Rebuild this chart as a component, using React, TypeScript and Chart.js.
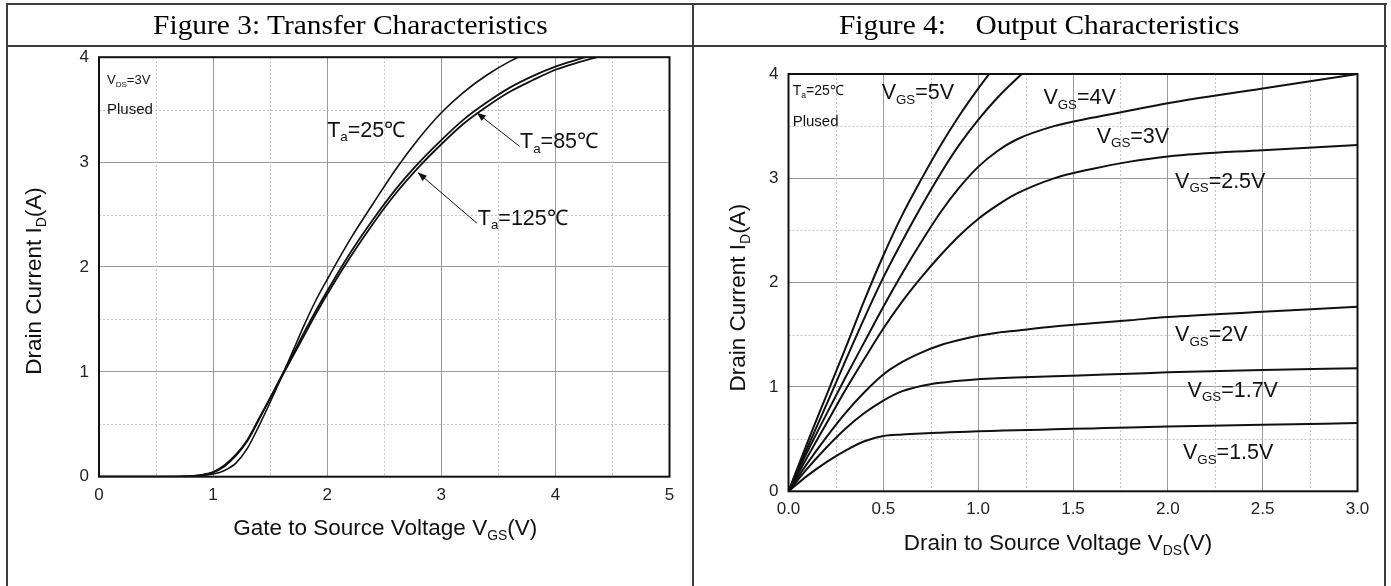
import React, { useEffect, useRef } from 'react';
import { Chart, registerables } from 'chart.js';

Chart.register(...registerables);

// ---------- Figure 3: Transfer characteristics (ID vs VGS) ----------
const transferVgs = [0, 0.5, 0.8, 0.9, 1.0, 1.1, 1.2, 1.3, 1.4, 1.5, 1.6, 1.7, 1.8, 1.9, 2.0, 2.2, 2.4, 2.6, 2.8, 3.0, 3.2, 3.4, 3.6, 3.8, 4.0, 4.2, 4.4, 4.6];
const idTa25 = [0, 0, 0.003, 0.01, 0.025, 0.06, 0.13, 0.27, 0.48, 0.71, 0.95, 1.2, 1.45, 1.68, 1.88, 2.26, 2.6, 2.93, 3.22, 3.47, 3.67, 3.83, 3.96, 4.06, 4.15, 4.23, 4.3, 4.36];
const idTa85 = [0, 0, 0.005, 0.015, 0.04, 0.1, 0.2, 0.34, 0.54, 0.75, 0.96, 1.17, 1.38, 1.58, 1.77, 2.13, 2.45, 2.74, 2.99, 3.21, 3.41, 3.57, 3.71, 3.82, 3.91, 3.98, 4.04, 4.09];
const idTa125 = [0, 0, 0.006, 0.018, 0.045, 0.11, 0.21, 0.35, 0.55, 0.75, 0.95, 1.15, 1.35, 1.55, 1.74, 2.09, 2.41, 2.7, 2.95, 3.17, 3.37, 3.53, 3.67, 3.78, 3.88, 3.95, 4.01, 4.06];

// ---------- Figure 4: Output characteristics (ID vs VDS) ----------
const outputVds = [0, 0.1, 0.2, 0.3, 0.4, 0.5, 0.6, 0.7, 0.8, 0.9, 1.0, 1.1, 1.2, 1.4, 1.6, 1.8, 2.0, 2.5, 3.0];
const idVgs5 = [0, 0.47, 0.92, 1.37, 1.83, 2.26, 2.65, 2.99, 3.31, 3.6, 3.86, 4.1, null, null, null, null, null, null, null];
const idVgs4 = [0, 0.42, 0.83, 1.25, 1.66, 2.05, 2.4, 2.73, 3.04, 3.32, 3.56, 3.77, 3.95, 4.27, null, null, null, null, null];
const idVgs3 = [0, 0.38, 0.74, 1.09, 1.43, 1.77, 2.09, 2.39, 2.67, 2.91, 3.11, 3.26, 3.37, 3.5, 3.58, 3.65, 3.72, 3.86, 4.0];
const idVgs25 = [0, 0.33, 0.65, 0.97, 1.27, 1.56, 1.82, 2.05, 2.26, 2.45, 2.61, 2.74, 2.85, 3.0, 3.09, 3.16, 3.21, 3.27, 3.32];
const idVgs2 = [0, 0.27, 0.52, 0.75, 0.95, 1.12, 1.24, 1.33, 1.4, 1.45, 1.49, 1.52, 1.54, 1.58, 1.61, 1.64, 1.67, 1.72, 1.77];
const idVgs17 = [0, 0.22, 0.42, 0.6, 0.75, 0.87, 0.96, 1.01, 1.04, 1.06, 1.075, 1.083, 1.09, 1.103, 1.115, 1.127, 1.14, 1.163, 1.18];
const idVgs15 = [0, 0.15, 0.28, 0.39, 0.48, 0.53, 0.545, 0.555, 0.562, 0.568, 0.575, 0.58, 0.585, 0.594, 0.603, 0.612, 0.62, 0.637, 0.655];

const SANS = '"Liberation Sans", Arial, Helvetica, sans-serif';
const SERIF = '"Liberation Serif", "Times New Roman", Times, serif';

type Part = [string, boolean];

function richWidth(ctx: CanvasRenderingContext2D, parts: Part[], size: number) {
  let w = 0;
  for (const [t, sub] of parts) {
    ctx.font = `${sub ? size * 0.62 : size}px ${SANS}`;
    w += ctx.measureText(t).width;
  }
  return w;
}

function drawRich(ctx: CanvasRenderingContext2D, parts: Part[], x: number, y: number, size: number, align: 'left' | 'center' = 'left') {
  ctx.save();
  ctx.textBaseline = 'middle';
  ctx.textAlign = 'left';
  ctx.fillStyle = '#111';
  const w = richWidth(ctx, parts, size);
  let cx = align === 'center' ? x - w / 2 : x;
  for (const [t, sub] of parts) {
    ctx.font = `${sub ? size * 0.62 : size}px ${SANS}`;
    ctx.fillText(t, cx, sub ? y + size * 0.33 : y);
    cx += ctx.measureText(t).width;
  }
  ctx.restore();
}

const decorPlugin = {
  id: 'decor',
  beforeDatasetsDraw(chart: any, _args: any, opts: any) {
    const { ctx, chartArea: a } = chart;
    const xs = chart.scales.x;
    const ys = chart.scales.y;
    ctx.save();
    ctx.strokeStyle = '#c2c2c2';
    ctx.lineWidth = 1;
    ctx.setLineDash([2, 2]);
    for (let v = xs.min + opts.minorX; v < xs.max; v += opts.minorX * 2) {
      const px = Math.round(xs.getPixelForValue(v)) + 0.5;
      ctx.beginPath();
      ctx.moveTo(px, a.top);
      ctx.lineTo(px, a.bottom);
      ctx.stroke();
    }
    for (let v = ys.min + opts.minorY; v < ys.max; v += opts.minorY * 2) {
      const py = Math.round(ys.getPixelForValue(v)) + 0.5;
      ctx.beginPath();
      ctx.moveTo(a.left, py);
      ctx.lineTo(a.right, py);
      ctx.stroke();
    }
    ctx.restore();
  },
  afterDatasetsDraw(chart: any, _args: any, opts: any) {
    const { ctx, chartArea: a } = chart;
    const xs = chart.scales.x;
    const ys = chart.scales.y;
    ctx.save();
    // plot frame
    ctx.strokeStyle = '#111';
    ctx.lineWidth = 2;
    ctx.setLineDash([]);
    ctx.strokeRect(a.left, a.top, a.right - a.left, a.bottom - a.top);
    // arrows
    for (const ar of opts.arrows || []) {
      const x1 = xs.getPixelForValue(ar.from[0]);
      const y1 = ys.getPixelForValue(ar.from[1]);
      const x2 = xs.getPixelForValue(ar.to[0]);
      const y2 = ys.getPixelForValue(ar.to[1]);
      ctx.strokeStyle = '#111';
      ctx.lineWidth = 1;
      ctx.beginPath();
      ctx.moveTo(x1, y1);
      ctx.lineTo(x2, y2);
      ctx.stroke();
      const ang = Math.atan2(y2 - y1, x2 - x1);
      const L = 9, W = 3.5;
      ctx.fillStyle = '#111';
      ctx.beginPath();
      ctx.moveTo(x2, y2);
      ctx.lineTo(x2 - L * Math.cos(ang) + W * Math.sin(ang), y2 - L * Math.sin(ang) - W * Math.cos(ang));
      ctx.lineTo(x2 - L * Math.cos(ang) - W * Math.sin(ang), y2 - L * Math.sin(ang) + W * Math.cos(ang));
      ctx.closePath();
      ctx.fill();
    }
    // labels
    for (const lb of opts.labels || []) {
      drawRich(ctx, lb.parts, xs.getPixelForValue(lb.at[0]), ys.getPixelForValue(lb.at[1]), lb.size, 'left');
    }
    // axis titles
    const cxm = (a.left + a.right) / 2;
    const cym = (a.top + a.bottom) / 2;
    drawRich(ctx, opts.xTitle, cxm + opts.xTitleDx, a.bottom + opts.xTitleDy, opts.titleSize, 'center');
    ctx.save();
    ctx.translate(a.left - opts.yTitleDx, cym + opts.yTitleDy);
    ctx.rotate(-Math.PI / 2);
    drawRich(ctx, opts.yTitle, 0, 0, opts.titleSize, 'center');
    ctx.restore();
    ctx.restore();
  },
};

function series(xs: number[], ys: (number | null)[], width: number) {
  return {
    data: xs.map((x, i) => ({ x, y: ys[i] })),
    showLine: true,
    pointRadius: 0,
    borderColor: '#111',
    borderWidth: width,
    cubicInterpolationMode: 'monotone',
    fill: false,
  };
}

const tickFont = { family: SANS, size: 17 };

function transferConfig(): any {
  return {
    type: 'scatter',
    data: {
      datasets: [
        series(transferVgs, idTa25, 1.6),
        series(transferVgs, idTa85, 1.8),
        series(transferVgs, idTa125, 1.8),
      ],
    },
    options: {
      animation: false,
      responsive: false,
      devicePixelRatio: 1,
      events: [],
      layout: { padding: { top: 20, right: 22.5, left: 0, bottom: 0 } },
      plugins: {
        legend: { display: false },
        tooltip: { enabled: false },
        decor: {
          minorX: 0.5,
          minorY: 0.5,
          titleSize: 22.5,
          xTitle: [['Gate to Source Voltage V', false], ['GS', true], ['(V)', false]],
          xTitleDx: 1,
          xTitleDy: 52,
          yTitle: [['Drain Current I', false], ['D', true], ['(A)', false]],
          yTitleDx: 64,
          yTitleDy: 14,
          labels: [
            { parts: [['V', false], ['DS', true], ['=3V', false]], at: [0.07, 3.78], size: 13 },
            { parts: [['Plused', false]], at: [0.07, 3.5], size: 15 },
            { parts: [['T', false], ['a', true], ['=25℃', false]], at: [2.0, 3.3], size: 21.5 },
            { parts: [['T', false], ['a', true], ['=85℃', false]], at: [3.69, 3.19], size: 21.5 },
            { parts: [['T', false], ['a', true], ['=125℃', false]], at: [3.32, 2.46], size: 21.5 },
          ],
          arrows: [
            { from: [3.687, 3.149], to: [3.311, 3.47] },
            { from: [3.311, 2.418], to: [2.795, 2.9] },
          ],
        },
      },
      scales: {
        x: {
          type: 'linear',
          min: 0,
          max: 5,
          afterFit: (s: any) => { s.height = 107.3; },
          ticks: { stepSize: 1, padding: 8, color: '#222', font: tickFont, maxRotation: 0, autoSkip: false },
          grid: { color: '#9a9a9a', lineWidth: 1, drawTicks: false },
          border: { display: false },
        },
        y: {
          type: 'linear',
          min: 0,
          max: 4,
          afterFit: (s: any) => { s.width = 90; },
          ticks: { stepSize: 1, padding: 10, color: '#222', font: tickFont, autoSkip: false },
          grid: { color: '#9a9a9a', lineWidth: 1, drawTicks: false },
          border: { display: false },
        },
      },
    },
    plugins: [decorPlugin],
  };
}

function outputConfig(): any {
  return {
    type: 'scatter',
    data: {
      datasets: [
        series(outputVds, idVgs5, 2),
        series(outputVds, idVgs4, 2),
        series(outputVds, idVgs3, 2),
        series(outputVds, idVgs25, 2),
        series(outputVds, idVgs2, 2),
        series(outputVds, idVgs17, 2),
        series(outputVds, idVgs15, 2),
      ],
    },
    options: {
      animation: false,
      responsive: false,
      devicePixelRatio: 1,
      events: [],
      layout: { padding: { top: 28, right: 25.5, left: 0, bottom: 0 } },
      plugins: {
        legend: { display: false },
        tooltip: { enabled: false },
        decor: {
          minorX: 0.25,
          minorY: 0.5,
          titleSize: 22.5,
          xTitle: [['Drain to Source Voltage V', false], ['DS', true], ['(V)', false]],
          xTitleDx: -15,
          xTitleDy: 52,
          yTitle: [['Drain Current I', false], ['D', true], ['(A)', false]],
          yTitleDx: 50,
          yTitleDy: 15,
          labels: [
            { parts: [['T', false], ['a', true], ['=25℃', false]], at: [0.022, 3.834], size: 14 },
            { parts: [['Plused', false]], at: [0.022, 3.537], size: 15 },
            { parts: [['V', false], ['GS', true], ['=5V', false]], at: [0.491, 3.816], size: 21.5 },
            { parts: [['V', false], ['GS', true], ['=4V', false]], at: [1.344, 3.768], size: 21.5 },
            { parts: [['V', false], ['GS', true], ['=3V', false]], at: [1.625, 3.4], size: 21.5 },
            { parts: [['V', false], ['GS', true], ['=2.5V', false]], at: [2.038, 2.968], size: 21.5 },
            { parts: [['V', false], ['GS', true], ['=2V', false]], at: [2.038, 1.499], size: 21.5 },
            { parts: [['V', false], ['GS', true], ['=1.7V', false]], at: [2.104, 0.965], size: 21.5 },
            { parts: [['V', false], ['GS', true], ['=1.5V', false]], at: [2.08, 0.364], size: 21.5 },
          ],
          arrows: [],
        },
      },
      scales: {
        x: {
          type: 'linear',
          min: 0,
          max: 3,
          afterFit: (s: any) => { s.height = 92.7; },
          ticks: { stepSize: 0.5, padding: 8, color: '#222', font: tickFont, maxRotation: 0, autoSkip: false, callback: (v: any) => Number(v).toFixed(1) },
          grid: { color: '#9a9a9a', lineWidth: 1, drawTicks: false },
          border: { display: false },
        },
        y: {
          type: 'linear',
          min: 0,
          max: 4,
          afterFit: (s: any) => { s.width = 93.5; },
          ticks: { stepSize: 1, padding: 10, color: '#222', font: tickFont, autoSkip: false },
          grid: { color: '#9a9a9a', lineWidth: 1, drawTicks: false },
          border: { display: false },
        },
      },
    },
    plugins: [decorPlugin],
  };
}

function ChartCanvas(props: { build: () => any; left: number; top: number; width: number; height: number }) {
  const ref = useRef<HTMLCanvasElement | null>(null);
  useEffect(() => {
    if (!ref.current) return;
    const c = new Chart(ref.current, props.build());
    return () => c.destroy();
  }, []);
  return (
    <canvas
      ref={ref}
      width={props.width}
      height={props.height}
      style={{ position: 'absolute', left: props.left, top: props.top, width: props.width, height: props.height }}
    />
  );
}

const line = (l: number, t: number, w: number, h: number) => (
  <div style={{ position: 'absolute', left: l, top: t, width: w, height: h, background: '#3c3c3c', zIndex: 2 }} />
);

function Header(props: { text: string; left: number; width: number }) {
  return (
    <div
      style={{
        position: 'absolute', left: props.left, top: 5, width: props.width, height: 40,
        display: 'flex', alignItems: 'center', justifyContent: 'center', zIndex: 1,
      }}
    >
      <span
        style={{
          fontFamily: SERIF, fontSize: 27.5, color: '#000', whiteSpace: 'pre',
          display: 'inline-block', transform: 'scaleX(1.07)', lineHeight: '40px',
        }}
      >
        {props.text}
      </span>
    </div>
  );
}

export default function App() {
  return (
    <div style={{ position: 'absolute', left: 0, top: 0, width: 1391, height: 586, background: '#fff', overflow: 'hidden' }}>
      {line(6, 3, 1381, 2)}
      {line(6, 45, 1381, 2)}
      {line(6, 3, 2, 583)}
      {line(692, 3, 2, 583)}
      {line(1384, 3, 2, 583)}
      <Header text="Figure 3: Transfer Characteristics" left={8} width={684} />
      <Header text="Figure 4:    Output Characteristics" left={694} width={690} />
      <ChartCanvas build={transferConfig} left={9} top={37} width={683} height={547} />
      <ChartCanvas build={outputConfig} left={695} top={46} width={688} height={538} />
    </div>
  );
}
